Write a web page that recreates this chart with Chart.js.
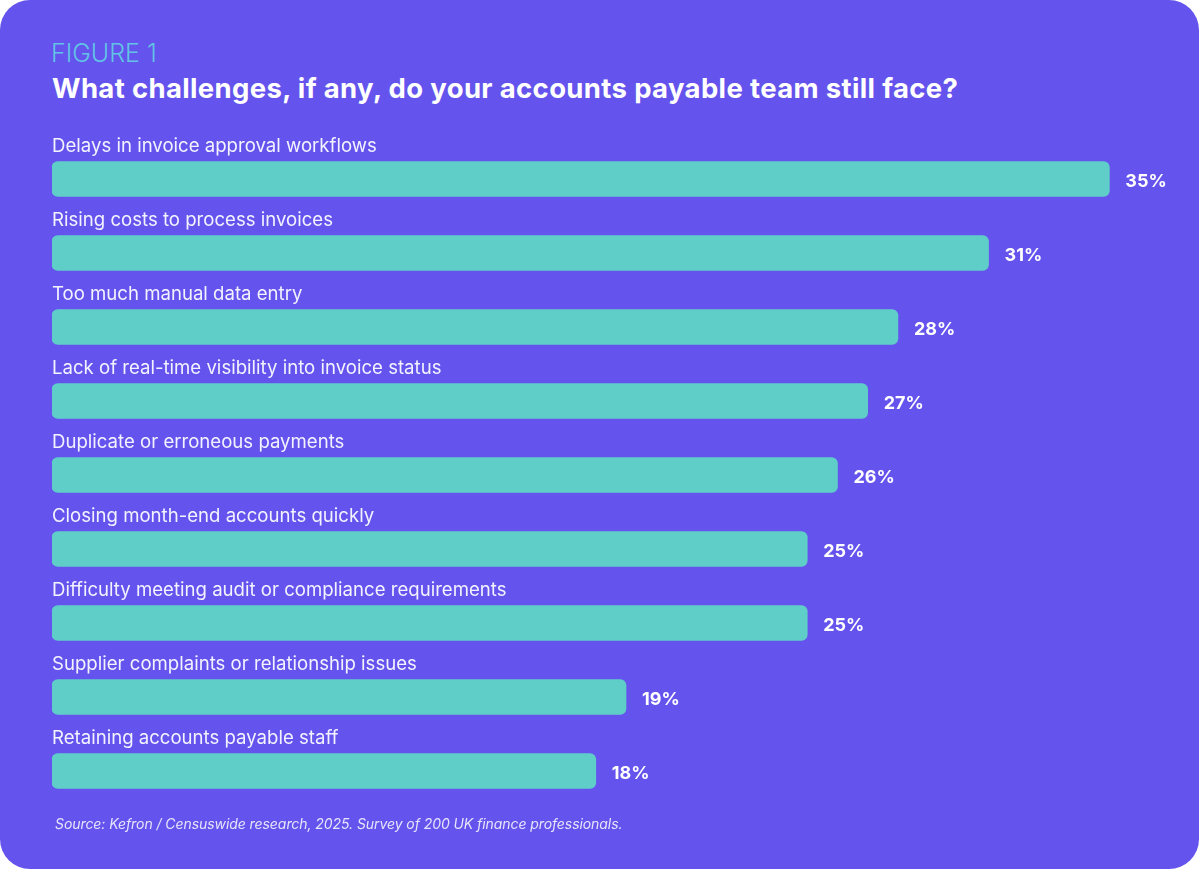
<!DOCTYPE html>
<html>
<head>
<meta charset="utf-8">
<script src="https://cdn.jsdelivr.net/npm/chart.js@4.4.1/dist/chart.umd.min.js"></script>
<style>
    html, body { margin: 0; padding: 0; background: #ffffff; }
    body { width: 1200px; height: 871px; position: relative; overflow: hidden; font-family: "Inter", "Open Sans", sans-serif; }
    .card { position: absolute; left: 0; top: 0; width: 1199px; height: 869px; background: #6453EC; border-radius: 30px; }
    .figure { position: absolute; left: 51px; top: 38px; font-size: 25px; font-weight: 300; color: #62C3E6; letter-spacing: 0px; }
    .title { position: absolute; left: 52px; top: 71px; font-size: 27.5px; font-weight: 700; color: #ffffff; letter-spacing: 0.35px; }
    .source { position: absolute; left: 55px; top: 815px; font-size: 14px; font-style: italic; color: #E6E4FB; letter-spacing: -0.07px; }
    .chart-box { position: absolute; left: 0; top: 110px; width: 1200px; height: 720px; }
</style>
</head>
<body>
<div class="card"></div>
<div class="figure">FIGURE 1</div>
<div class="title">What challenges, if any, do your accounts payable team still face?</div>
<div class="chart-box"><canvas id="challengesChart"></canvas></div>
<div class="source">Source: Kefron / Censuswide research, 2025. Survey of 200 UK finance professionals.</div>

<script>
const categories = [
    'Delays in invoice approval workflows',
    'Rising costs to process invoices',
    'Too much manual data entry',
    'Lack of real-time visibility into invoice status',
    'Duplicate or erroneous payments',
    'Closing month-end accounts quickly',
    'Difficulty meeting audit or compliance requirements',
    'Supplier complaints or relationship issues',
    'Retaining accounts payable staff'
];
const percentages = [35, 31, 28, 27, 26, 25, 25, 19, 18];
const axisMax = 38;

// draws the category name above each bar and the value to the right of it
const barLabels = {
    id: 'barLabels',
    afterDatasetsDraw(chart) {
        const ctx = chart.ctx;
        const meta = chart.getDatasetMeta(0);
        ctx.save();
        meta.data.forEach(function (bar, i) {
            const half = bar.height / 2;
            ctx.fillStyle = '#F3F2FF';
            ctx.font = '400 18.6px Inter, "Open Sans", sans-serif';
            ctx.textAlign = 'left';
            ctx.textBaseline = 'alphabetic';
            ctx.fillText(categories[i], chart.chartArea.left, bar.y - half - 10);

            ctx.fillStyle = '#ffffff';
            ctx.font = '700 18px Inter, "Open Sans", sans-serif';
            ctx.textBaseline = 'middle';
            ctx.fillText(percentages[i] + '%', bar.x + 16, bar.y + 3);
        });
        ctx.restore();
    }
};

function drawChart() {
    const canvas = document.getElementById('challengesChart');

    new Chart(canvas, {
        type: 'bar',
        data: {
            labels: categories,
            datasets: [{
                data: percentages,
                backgroundColor: '#60CEC8',
                borderRadius: 6,
                borderSkipped: false,
                barThickness: 35
            }]
        },
        options: {
            indexAxis: 'y',
            responsive: true,
            maintainAspectRatio: false,
            animation: false,
            layout: {
                padding: { left: 52, right: 0, top: 32, bottom: 22 }
            },
            plugins: {
                legend: { display: false },
                tooltip: { enabled: false }
            },
            scales: {
                x: {
                    min: 0,
                    max: axisMax,
                    display: false
                },
                y: {
                    display: false
                }
            }
        },
        plugins: [barLabels]
    });
}

drawChart();
</script>
</body>
</html>
